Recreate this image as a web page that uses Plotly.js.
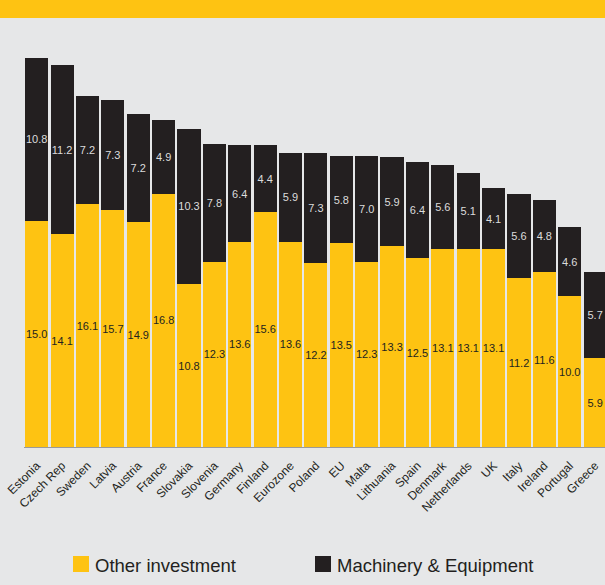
<!DOCTYPE html>
<html>
<head>
<meta charset="utf-8">
<script src="https://cdn.plot.ly/plotly-3.0.1.min.js"></script>
<style>html,body{margin:0;padding:0;background:#e6e7e8;overflow:hidden}#chart{width:605px;height:585px}</style>
</head>
<body>
<div id="chart"></div>
<script>
const categories = ["Estonia","Czech Rep","Sweden","Latvia","Austria","France","Slovakia","Slovenia","Germany","Finland","Eurozone","Poland","EU","Malta","Lithuania","Spain","Denmark","Netherlands","UK","Italy","Ireland","Portugal","Greece"];
const otherInvestment = [15.0,14.1,16.1,15.7,14.9,16.8,10.8,12.3,13.6,15.6,13.6,12.2,13.5,12.3,13.3,12.5,13.1,13.1,13.1,11.2,11.6,10.0,5.9];
const machineryEquipment = [10.8,11.2,7.2,7.3,7.2,4.9,10.3,7.8,6.4,4.4,5.9,7.3,5.8,7.0,5.9,6.4,5.6,5.1,4.1,5.6,4.8,4.6,5.7];
const seriesNames = ["Other investment","Machinery & Equipment"];

const YELLOW = "#fec312", DARK = "#231f20", BG = "#e6e7e8";
const W = 605, H = 585, ML = 24, MR = 0, MT = 30, MB = 138;
const PW = W - ML - MR, PH = H - MT - MB;
const px = x => (x - ML) / PW;
const py = y => (H - MB - y) / PH;

const font = "Liberation Sans, Arial, Helvetica, sans-serif";

const traces = [
  {type:"bar", name:seriesNames[0], x:categories, y:otherInvestment, marker:{color:YELLOW},
   texttemplate:"%{y:.1f}", textposition:"inside", insidetextanchor:"middle", constraintext:"none", textangle:0,
   textfont:{family:font, size:11, color:DARK}, hoverinfo:"x+y"},
  {type:"bar", name:seriesNames[1], x:categories, y:machineryEquipment, marker:{color:DARK},
   texttemplate:"%{y:.1f}", textposition:"inside", insidetextanchor:"middle", constraintext:"none", textangle:0,
   textfont:{family:font, size:11, color:"#dcdcdc"}, hoverinfo:"x+y"}
];

const shapes = [
  {type:"rect", xref:"paper", yref:"paper", x0:px(-5), x1:px(W+5), y0:py(18), y1:py(-5), fillcolor:YELLOW, line:{width:0}, layer:"above"},
  {type:"rect", xref:"paper", yref:"paper", x0:px(73), x1:px(89), y0:py(572), y1:py(556), fillcolor:YELLOW, line:{width:0}},
  {type:"rect", xref:"paper", yref:"paper", x0:px(315), x1:px(331), y0:py(572), y1:py(556), fillcolor:DARK, line:{width:0}}
];
const annotations = [
  {xref:"paper", yref:"paper", x:px(93), y:py(565), xanchor:"left", yanchor:"middle", text:seriesNames[0], showarrow:false, font:{family:font, size:18.5, color:DARK}},
  {xref:"paper", yref:"paper", x:px(335), y:py(565), xanchor:"left", yanchor:"middle", text:seriesNames[1], showarrow:false, font:{family:font, size:18.5, color:DARK}}
];

const layout = {
  width:W, height:H,
  margin:{l:ML, r:MR, t:MT, b:MB, pad:0},
  paper_bgcolor:BG, plot_bgcolor:BG,
  barmode:"stack", bargap:0.09,
  showlegend:false,
  font:{family:font, color:DARK},
  xaxis:{range:[-0.5, 22.39], showgrid:false, zeroline:false, showline:true, linecolor:"#9a9a9a", linewidth:1,
         ticks:"", tickangle:-45, ticklabelstandoff:6, tickfont:{family:font, size:12, color:DARK}, fixedrange:true},
  yaxis:{range:[0, 27.65], showgrid:false, zeroline:false, showline:false, showticklabels:false, ticks:"", fixedrange:true},
  shapes:shapes, annotations:annotations
};

Plotly.newPlot("chart", traces, layout, {displayModeBar:false, staticPlot:true});
</script>
</body>
</html>
